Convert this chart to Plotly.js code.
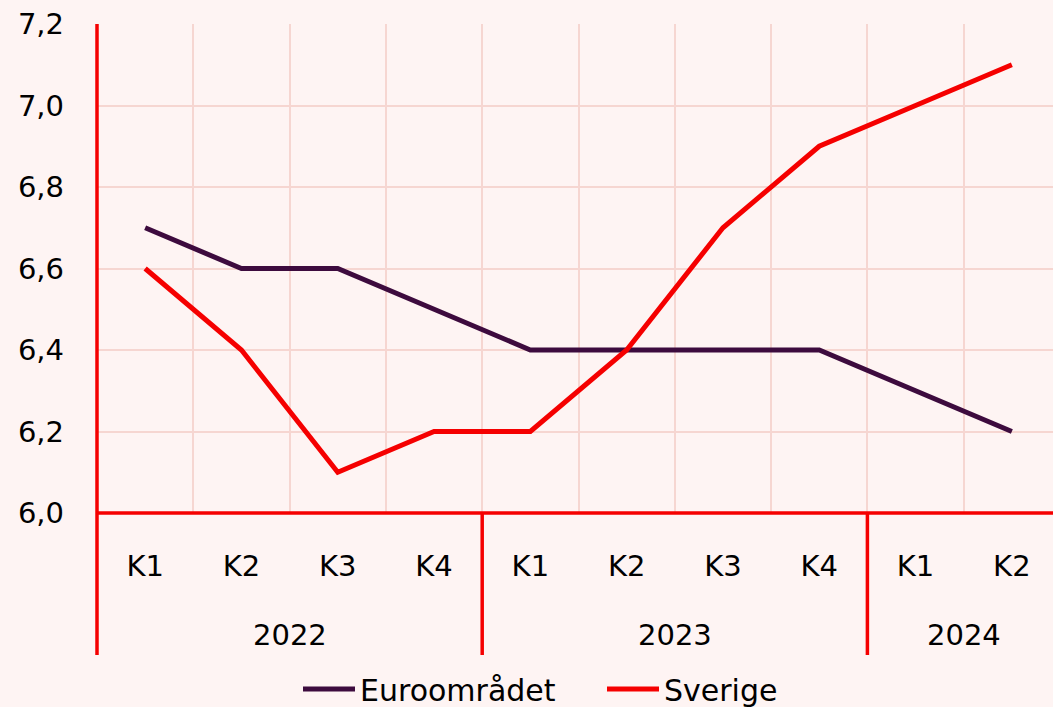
<!DOCTYPE html>
<html><head><meta charset="utf-8">
<script src="https://cdn.plot.ly/plotly-3.0.1.min.js"></script>
<style>html,body{margin:0;padding:0;overflow:hidden;background:#fef4f3}</style>
</head><body><div id="chart"></div>
<script>
const categories = ["2022 K1","2022 K2","2022 K3","2022 K4","2023 K1","2023 K2","2023 K3","2023 K4","2024 K1","2024 K2"];
const quarterLabels = ["K1","K2","K3","K4","K1","K2","K3","K4","K1","K2"];
const years = ["2022","2023","2024"];
const yearCenters = [1.5, 5.5, 8.5];
const yearDividers = [3.5, 7.5];
const euroomradet = [6.7, 6.6, 6.6, 6.5, 6.4, 6.4, 6.4, 6.4, 6.3, 6.2];
const sverige = [6.6, 6.4, 6.1, 6.2, 6.2, 6.4, 6.7, 6.9, 7.0, 7.1];

const FONT = '"DejaVu Sans", "Noto Sans", sans-serif';
const red = '#f50000';
const purple = '#3d0b3e';
const grid = '#f6d6d1';
const plotH = 489;
const divBottom = -(655-513)/plotH;

const traces = [
  {x: categories, y: euroomradet, name: 'Euroområdet', mode: 'lines', line: {color: purple, width: 5}},
  {x: categories, y: sverige, name: 'Sverige', mode: 'lines', line: {color: red, width: 5}}
];

const shapes = yearDividers.map(d => ({type:'line', xref:'x', yref:'paper', x0:d, x1:d, y0: 0, y1: divBottom, line:{color:red, width:3.5}}));
shapes.push({type:'line', xref:'paper', yref:'paper', x0:0, x1:0, y0:1, y1:divBottom, line:{color:red, width:3.5}});
shapes.push({type:'line', xref:'paper', yref:'paper', x0:0, x1:1, y0:0, y1:0, line:{color:red, width:3.5}});
const annotations = years.map((yv,i) => ({xref:'x', yref:'paper', x: yearCenters[i], y: (513-635)/plotH, text: yv, showarrow:false, font:{family:FONT, size:29, color:'#000'}, xanchor:'center', yanchor:'middle'}));

const layout = {
  width: 1060, height: 707,
  margin: {l: 97, r: 0, t: 24, b: 194, autoexpand: false},
  paper_bgcolor: '#fef4f3', plot_bgcolor: '#fef4f3',
  separators: ', ',
  font: {family: FONT, size: 29, color: '#000'},
  showlegend: true,
  legend: {orientation: 'h', x: (298-97)/963, xanchor: 'left', y: (513-689)/plotH, yanchor: 'middle', font: {family: FONT, size: 30}, bgcolor: 'rgba(0,0,0,0)', itemwidth: 52, entrywidth: 237, entrywidthmode: 'pixels'},
  xaxis: {type: 'category', tickmode: 'array', tickvals: categories, ticktext: quarterLabels, tickson: 'boundaries', ticks: '', showgrid: true, gridcolor: grid, gridwidth: 2, showline: false, zeroline: false, ticklabelstandoff: 33, range: [-0.5, 9.5], fixedrange: true},
  yaxis: {range: [6.0, 7.2], dtick: 0.2, tick0: 6.0, tickformat: '.1f', showgrid: true, gridcolor: grid, gridwidth: 2, zeroline: false, showline: false, ticks: '', ticklabelstandoff: 32},
  shapes: shapes,
  annotations: annotations
};
Plotly.newPlot('chart', traces, layout, {displayModeBar: false, staticPlot: true});
</script></body></html>
